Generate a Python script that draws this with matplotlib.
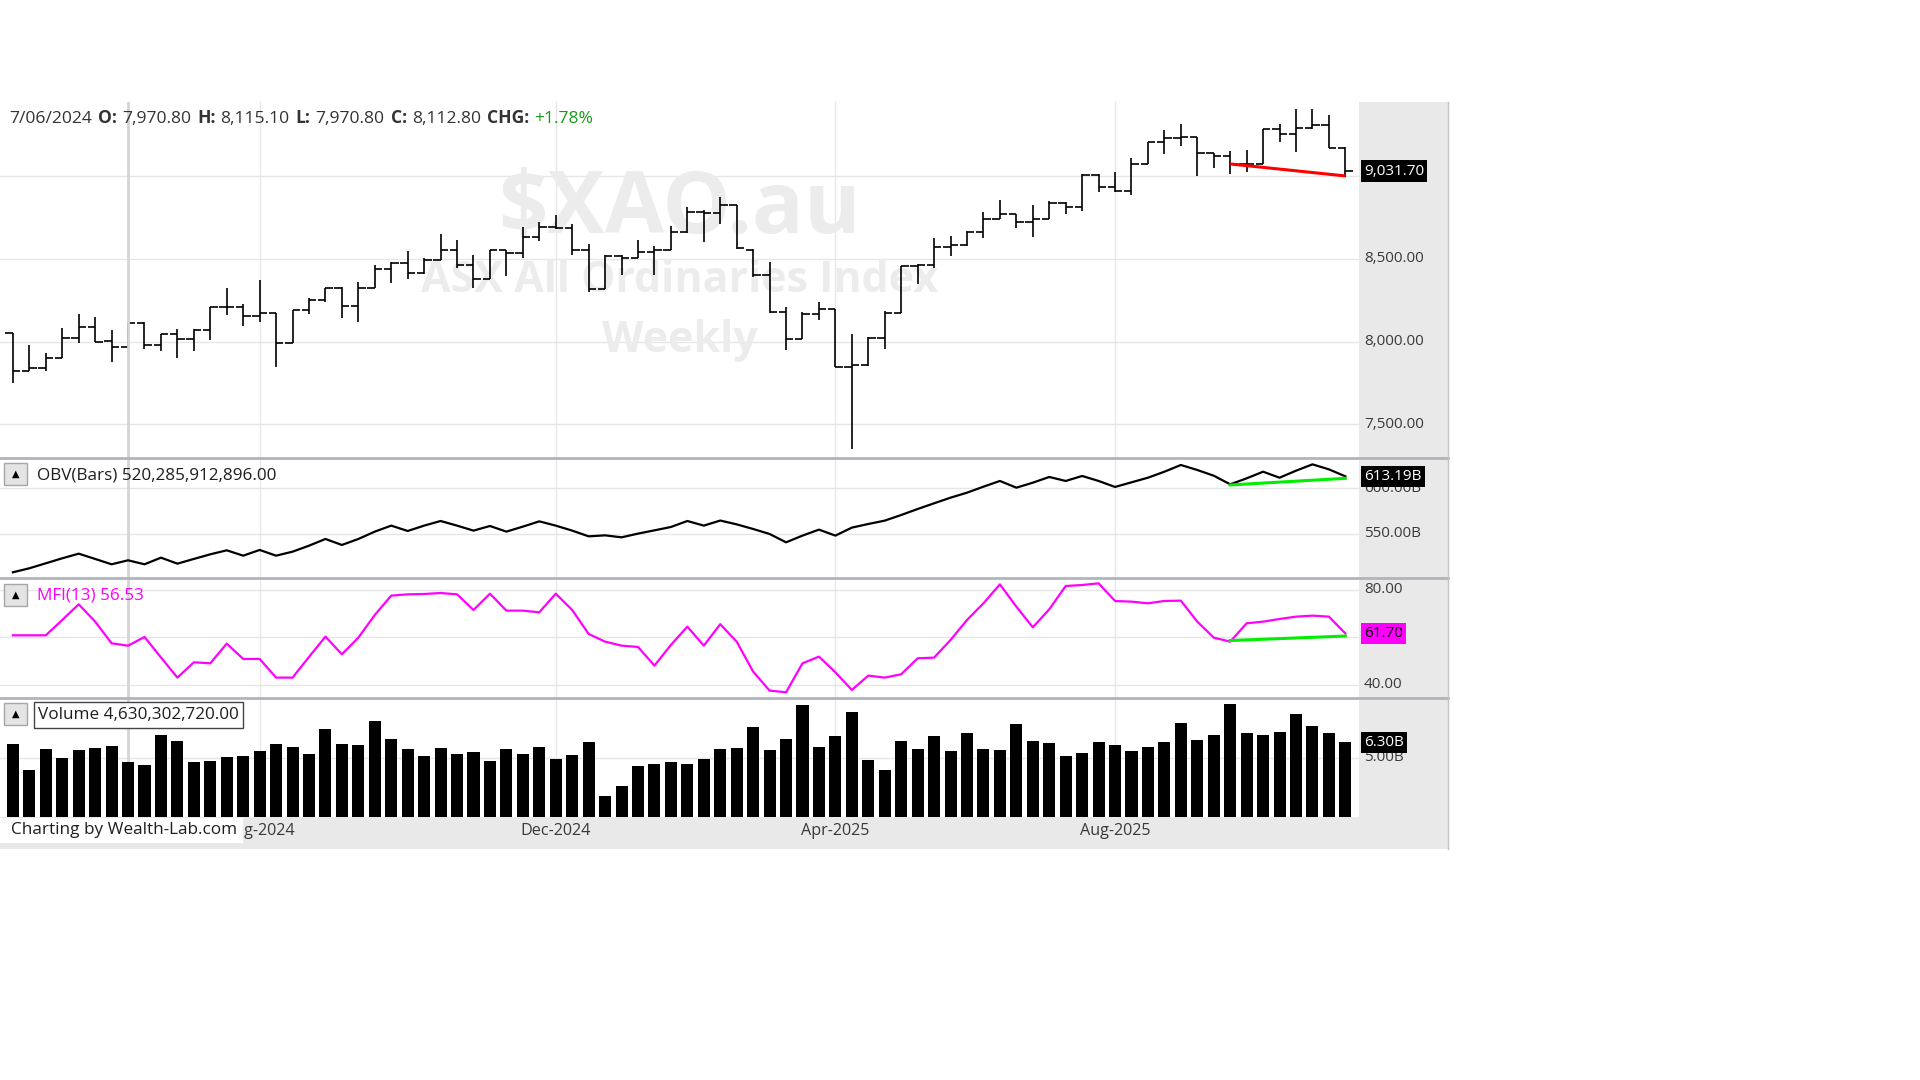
import numpy as np
import pandas as pd
import matplotlib
matplotlib.use("Agg")
import matplotlib.pyplot as plt
from matplotlib import transforms
from matplotlib.lines import Line2D
from matplotlib.patches import Rectangle

plt.rcParams["font.family"] = ["Open Sans", "DejaVu Sans"]

# $XAO.au weekly bars, first bar week ending 19/04/2024
first_week = "2024-04-19"

opens = [8051.5, 7821.9, 7840.1, 7902.5, 8025.4, 8087.8, 8007.2, 7970.8, 8116.0, 7979.0,
         8045.5, 8015.3, 8073.7, 8210.6, 8210.6, 8156.3, 8172.3, 7995.1, 8192.5, 8252.9,
         8323.3, 8216.6, 8327.4, 8438.1, 8478.4, 8414.0, 8494.5, 8552.9, 8466.3, 8379.7,
         8552.9, 8538.8, 8633.5, 8695.9, 8685.8, 8552.9, 8319.3, 8520.7, 8508.6, 8544.9,
         8557.0, 8661.7, 8786.5, 8780.5, 8824.8, 8557.0, 8401.9, 8178.4, 8017.3, 8166.3,
         8196.5, 7850.1, 7856.2, 8025.4, 8176.4, 8456.3, 8464.3, 8575.1, 8585.1, 8661.7,
         8742.2, 8770.4, 8722.1, 8742.2, 8840.9, 8816.7, 9006.0, 8933.5, 8913.4, 9074.5,
         9205.4, 9229.5, 9235.6, 9138.9, 9124.8, 9074.5, 9074.5, 9283.9, 9257.7, 9289.9,
         9312.1, 9173.1]
highs = [8055.0, 7981.0, 7930.7, 8081.7, 8166.3, 8150.2, 8071.6, 8115.1, 8118.0, 8045.5,
         8075.7, 8075.7, 8212.0, 8327.4, 8226.7, 8373.7, 8175.0, 8192.5, 8262.9, 8327.4,
         8333.4, 8359.6, 8464.3, 8484.4, 8550.9, 8504.6, 8649.6, 8613.3, 8524.7, 8552.9,
         8555.0, 8691.9, 8726.1, 8766.4, 8710.0, 8589.2, 8524.7, 8523.0, 8613.3, 8581.1,
         8701.9, 8816.7, 8796.6, 8875.1, 8827.0, 8559.0, 8480.4, 8210.6, 8182.4, 8238.8,
         8199.0, 8047.5, 8027.0, 8186.4, 8458.0, 8468.3, 8625.4, 8641.5, 8669.7, 8786.5,
         8855.0, 8773.0, 8826.8, 8850.9, 8842.9, 9014.1, 9014.1, 9024.1, 9112.7, 9207.0,
         9279.9, 9314.1, 9238.0, 9141.0, 9153.0, 9157.0, 9286.0, 9314.1, 9404.7, 9404.7,
         9370.5, 9175.0]
lows = [7749.4, 7820.0, 7824.0, 7900.0, 7991.1, 7997.1, 7874.3, 7970.8, 7954.9, 7944.8,
        7904.5, 7944.8, 8013.3, 8162.3, 8097.8, 8122.0, 7844.1, 7991.1, 8168.3, 8238.8,
        8142.2, 8122.0, 8325.0, 8353.6, 8379.7, 8412.0, 8492.0, 8444.2, 8327.4, 8377.7,
        8399.9, 8504.6, 8609.3, 8683.0, 8524.7, 8303.2, 8317.0, 8403.9, 8504.6, 8403.9,
        8552.9, 8659.0, 8605.3, 8714.0, 8563.0, 8393.8, 8176.0, 7950.8, 8015.0, 8130.1,
        7848.0, 7350.6, 7854.0, 7954.9, 8174.0, 8351.5, 8448.2, 8516.7, 8579.1, 8625.4,
        8740.0, 8685.8, 8631.5, 8740.0, 8772.4, 8790.5, 8905.3, 8907.3, 8887.2, 9072.0,
        9132.9, 9183.2, 9000.0, 9048.3, 9012.0, 9028.2, 9072.0, 9205.4, 9149.0, 9287.0,
        9171.0, 8997.9]
closes = [7821.9, 7840.1, 7902.5, 8025.4, 8087.8, 8001.2, 7971.0, 8112.8, 7979.0, 8045.5,
          8015.3, 8073.7, 8210.6, 8210.6, 8156.3, 8172.3, 7995.1, 8192.5, 8252.9, 8323.3,
          8216.6, 8327.4, 8438.1, 8478.4, 8414.0, 8494.5, 8552.9, 8466.3, 8379.7, 8552.9,
          8538.8, 8633.5, 8695.9, 8685.8, 8552.9, 8319.3, 8520.7, 8508.6, 8544.9, 8557.0,
          8661.7, 8786.5, 8780.5, 8824.8, 8565.0, 8401.9, 8178.4, 8017.3, 8166.3, 8196.5,
          7850.1, 7856.2, 8025.4, 8176.4, 8456.3, 8464.3, 8575.1, 8585.1, 8661.7, 8742.2,
          8770.4, 8722.1, 8742.2, 8840.9, 8816.7, 9006.0, 8933.5, 8913.4, 9074.5, 9205.4,
          9229.5, 9235.6, 9138.9, 9124.8, 9074.5, 9076.0, 9283.9, 9257.7, 9289.9, 9312.1,
          9173.1, 9031.7]

# OBV in billions
obv = [507.5, 511.9, 517.4, 522.9, 528.0, 522.2, 516.3, 520.7, 516.3, 523.6,
       517.0, 522.2, 527.3, 531.7, 525.8, 532.1, 525.8, 530.2, 536.8, 544.2,
       537.6, 544.2, 552.3, 558.9, 553.0, 558.9, 564.0, 558.9, 553.4, 558.5,
       552.3, 557.8, 563.6, 558.9, 553.4, 547.1, 548.2, 546.0, 550.1, 553.7,
       557.4, 564.0, 558.9, 564.5, 560.3, 555.2, 549.7, 540.5, 547.9, 554.5,
       547.9, 556.7, 560.7, 564.4, 570.6, 577.2, 583.5, 589.7, 595.2, 601.8,
       608.1, 600.7, 606.2, 612.5, 608.1, 613.6, 608.1, 601.5, 606.6, 611.7,
       618.3, 625.7, 620.2, 613.9, 604.4, 611.0, 618.3, 611.7, 619.4, 626.4,
       620.9, 613.19]

mfi = [60.91, 60.91, 60.91, 67.37, 73.97, 66.67, 57.54, 56.53, 60.21, 51.60,
       43.09, 49.54, 49.12, 57.40, 50.95, 50.95, 43.09, 43.09, 51.80, 60.35,
       52.91, 59.93, 69.47, 77.63, 78.17, 78.31, 78.73, 78.17, 71.58, 78.45,
       71.30, 71.30, 70.60, 78.45, 71.58, 61.47, 58.24, 56.56, 56.00, 48.14,
       56.84, 64.56, 56.56, 65.60, 58.24, 45.61, 37.61, 36.91, 49.12, 51.93,
       45.33, 37.89, 43.93, 43.09, 44.49, 51.23, 51.51, 58.95, 67.37, 74.39,
       82.38, 72.98, 64.28, 71.86, 81.68, 82.10, 82.80, 75.37, 75.09, 74.39,
       75.37, 75.51, 66.67, 59.93, 58.24, 65.96, 66.67, 67.79, 68.77, 69.19,
       68.77, 61.70]

# volume in billions
volume = [6.16, 3.96, 5.74, 4.97, 5.65, 5.82, 5.99, 4.63, 4.38, 6.92,
          6.42, 4.64, 4.72, 5.06, 5.14, 5.57, 6.16, 5.91, 5.31, 7.43,
          6.16, 6.08, 8.11, 6.59, 5.74, 5.14, 5.82, 5.31, 5.48, 4.72,
          5.74, 5.31, 5.91, 4.89, 5.23, 6.33, 1.75, 2.60, 4.30, 4.47,
          4.64, 4.47, 4.89, 5.74, 5.82, 7.60, 5.65, 6.59, 9.47, 5.91,
          6.84, 8.87, 4.80, 3.96, 6.42, 5.74, 6.84, 5.57, 7.09, 5.74,
          5.65, 7.86, 6.42, 6.25, 5.14, 5.40, 6.33, 6.08, 5.57, 5.91,
          6.33, 7.94, 6.50, 6.92, 9.55, 7.09, 6.92, 7.17, 8.70, 7.69,
          7.09, 6.30]

month_labels = ["Aug-2024", "Dec-2024", "Apr-2025", "Aug-2025"]
price_ticks = [7500, 8000, 8500, 9000]
obv_ticks = [550, 600]
mfi_ticks = [40, 60, 80]
vol_ticks = [5]

cursor_bar = 7
obv_cursor_text = "OBV(Bars) 520,285,912,896.00"
vol_cursor_text = "Volume 4,630,302,720.00"

# drawn trend lines (bar index, value)
price_trend = ([74, 81], [9074.5, 9002.0])
obv_trend = ([74, 81], [603.7, 611.0])
mfi_trend = ([74, 81], [58.7, 60.6])

dates = pd.date_range(first_week, periods=len(closes), freq="7D")
x = np.arange(len(closes))
month_idx = [int(np.argmax(dates.strftime("%b-%Y") == m)) for m in month_labels]

# ---- layout in pixels ----
W, H = 1920, 1080
PLOT_R = 1359
CHART_R = 1448
TOP, SEP1, SEP2, SEP3, SEP4, BOTTOM = 102, 458, 578, 698, 817, 849
LABEL_X = 1364
GRID = "#e6e6e6"
TXT = "#3a3a3a"
CAP = 12.3


def fx(px):
    return px / W


def fy(py):
    return 1 - py / H


fig = plt.figure(figsize=(19.2, 10.8), dpi=100)
fig.patch.set_facecolor("white")

# gray strips: value axis on the right, date axis at the bottom
fig.add_artist(Rectangle((fx(PLOT_R), fy(BOTTOM)), fx(CHART_R) - fx(PLOT_R), fy(TOP) - fy(BOTTOM),
                         transform=fig.transFigure, fc="#e9e9e9", ec="none", zorder=-2))
fig.add_artist(Rectangle((0, fy(BOTTOM)), fx(CHART_R), fy(SEP4) - fy(BOTTOM),
                         transform=fig.transFigure, fc="#e9e9e9", ec="none", zorder=-2))


def make_ax(top, bottom, ylim):
    ax = fig.add_axes([0, fy(bottom), fx(PLOT_R), fy(top) - fy(bottom)])
    ax.set_xlim(-0.784, 81.83)
    ax.set_ylim(*ylim)
    ax.set_axis_off()
    for i in month_idx:
        ax.axvline(i, color=GRID, lw=0.9, zorder=0)
    return ax


ax_p = make_ax(TOP, SEP1, (7297, 9449))
ax_o = make_ax(SEP1, SEP2, (501.2, 633.4))
ax_m = make_ax(SEP2, SEP3, (34.5, 85.05))
ax_v = make_ax(SEP3, SEP4, (0, 10.06))

for ax, ticks in [(ax_p, price_ticks), (ax_o, obv_ticks), (ax_m, mfi_ticks), (ax_v, vol_ticks)]:
    for t in ticks:
        ax.axhline(t, color=GRID, lw=1, zorder=0)

# watermark
wm = dict(transform=fig.transFigure, ha="center", va="center", weight="bold",
          color="#ececec", zorder=0)
ax_p.text(fx(679), fy(210), "$XAO.au", fontsize=62, **wm)
ax_p.text(fx(680), fy(281), "ASX All Ordinaries Index", fontsize=31, **wm)
ax_p.text(fx(680), fy(340), "Weekly", fontsize=31, **wm)

# price bars
ax_p.vlines(x, lows, highs, color="black", lw=1.2, zorder=2)
ax_p.hlines(opens, x - 0.45, x, color="black", lw=1.2, zorder=2)
ax_p.hlines(closes, x, x + 0.45, color="black", lw=1.2, zorder=2)
ax_p.plot(*price_trend, color="#ff0000", lw=2.2, zorder=3, solid_capstyle="butt")
ax_p.axvline(cursor_bar, color="#d4d4d4", lw=2, zorder=4)

# OBV
ax_o.axvline(cursor_bar, color="#d4d4d4", lw=2, zorder=1)
ax_o.plot(x, obv, color="black", lw=1.6, zorder=2)
ax_o.plot(*obv_trend, color="#00ee00", lw=2.2, zorder=3)

# MFI
ax_m.axvline(cursor_bar, color="#d4d4d4", lw=2, zorder=1)
ax_m.plot(x, mfi, color="#ff00ff", lw=1.6, zorder=2)
ax_m.plot(*mfi_trend, color="#00ee00", lw=2.2, zorder=3)

# volume
ax_v.axvline(cursor_bar, color="#d4d4d4", lw=2, zorder=1)
ax_v.bar(x, volume, width=0.73, color="black", zorder=2)


# right-hand value labels
def right_label(ax, val, txt, box=None, tcolor=TXT):
    tr = transforms.blended_transform_factory(fig.transFigure, ax.transData)
    kw = dict(transform=tr, va="center", ha="left", fontsize=11, clip_on=False, color=tcolor)
    if box:
        ax.text(fx(LABEL_X), val, txt, zorder=6,
                bbox=dict(boxstyle="square,pad=0.2", fc=box, ec="none"), **kw)
    else:
        ax.text(fx(LABEL_X), val, txt, zorder=5, **kw)


for t in price_ticks:
    right_label(ax_p, t, f"{t:,.2f}")
for t in obv_ticks:
    right_label(ax_o, t, f"{t:.2f}B")
for t in (40, 80):
    right_label(ax_m, t, f"{t:.2f}")
for t in vol_ticks:
    right_label(ax_v, t, f"{t:.2f}B")

right_label(ax_p, closes[-1], f"{closes[-1]:,.2f}", box="black", tcolor="white")
right_label(ax_o, obv[-1], f"{obv[-1]:.2f}B", box="black", tcolor="white")
right_label(ax_m, mfi[-1], f"{mfi[-1]:.2f}", box="#ff00ff", tcolor="black")
right_label(ax_v, volume[-1], f"{volume[-1]:.2f}B", box="black", tcolor="white")

# pane separators and right border
for yy in (SEP1, SEP2, SEP3):
    fig.add_artist(Line2D([0, fx(CHART_R)], [fy(yy), fy(yy)], transform=fig.transFigure,
                          color="#b0b4be", lw=2, zorder=5))
fig.add_artist(Line2D([fx(CHART_R), fx(CHART_R)], [fy(TOP), fy(BOTTOM)], transform=fig.transFigure,
                      color="#c4c4c4", lw=1, zorder=5))

# date labels
tr_date = transforms.blended_transform_factory(ax_v.transData, fig.transFigure)
for i, lab in zip(month_idx, month_labels):
    ax_v.text(i, fy(831), lab, transform=tr_date, ha="center", va="center",
              fontsize=11.6, color=TXT, clip_on=False, zorder=3)

fig.add_artist(Rectangle((0, fy(843)), fx(243), fy(SEP4 + 1) - fy(843), transform=fig.transFigure,
                         fc="white", ec="none", zorder=6))
fig.text(fx(11), fy(830), "Charting by Wealth-Lab.com", ha="left", va="center",
         fontsize=CAP, color="#1e1e1e", zorder=7)


# small collapse buttons and pane captions
def button(cy):
    fig.add_artist(Rectangle((fx(4), fy(cy + 11)), fx(23), fy(cy - 11) - fy(cy + 11),
                             transform=fig.transFigure, fc="#e4e4e4", ec="#a6a6a6", lw=1, zorder=6))
    fig.text(fx(15.5), fy(cy), "\u25b2", ha="center", va="center", fontsize=7,
             color="black", family=["DejaVu Sans"], zorder=7)


button(474)
fig.text(fx(37), fy(475), obv_cursor_text, ha="left", va="center", fontsize=CAP, color="#1e1e1e", zorder=7)
button(595)
fig.text(fx(37), fy(595), f"MFI(13) {mfi[cursor_bar]:.2f}", ha="left", va="center",
         fontsize=CAP, color="#ff00ff", zorder=7)
button(714)
fig.add_artist(Rectangle((fx(34), fy(728)), fx(243) - fx(34), fy(702) - fy(728),
                         transform=fig.transFigure, fc="white", ec="#444444", lw=1, zorder=6))
fig.text(fx(38), fy(715), vol_cursor_text, ha="left", va="center", fontsize=CAP, color="#1e1e1e", zorder=7)

# header line for the cursor bar
chg = (closes[cursor_bar] / closes[cursor_bar - 1] - 1) * 100
d = dates[cursor_bar]
parts = [
    (f"{d.day}/{d.month:02d}/{d.year}", "normal", "#333333"),
    ("O:", "bold", "#333333"), (f"{opens[cursor_bar]:,.2f}", "normal", "#333333"),
    ("H:", "bold", "#333333"), (f"{highs[cursor_bar]:,.2f}", "normal", "#333333"),
    ("L:", "bold", "#333333"), (f"{lows[cursor_bar]:,.2f}", "normal", "#333333"),
    ("C:", "bold", "#333333"), (f"{closes[cursor_bar]:,.2f}", "normal", "#333333"),
    ("CHG:", "bold", "#333333"), (f"{chg:+.2f}%", "normal", "#1a9a1a"),
]
prev = ax_p.text(fx(9), fy(127), parts[0][0], transform=fig.transFigure, ha="left", va="bottom",
                 fontsize=12.6, weight=parts[0][1], color=parts[0][2], zorder=8)
for txt, wt, col in parts[1:]:
    gap = 4.5 if wt == "bold" else 3.5
    prev = ax_p.annotate(txt, xy=(1, 0), xycoords=prev, xytext=(gap, 0), textcoords="offset points",
                         ha="left", va="bottom", fontsize=12.6, weight=wt, color=col,
                         annotation_clip=False, zorder=8)

fig.savefig("out.png", dpi=100)
